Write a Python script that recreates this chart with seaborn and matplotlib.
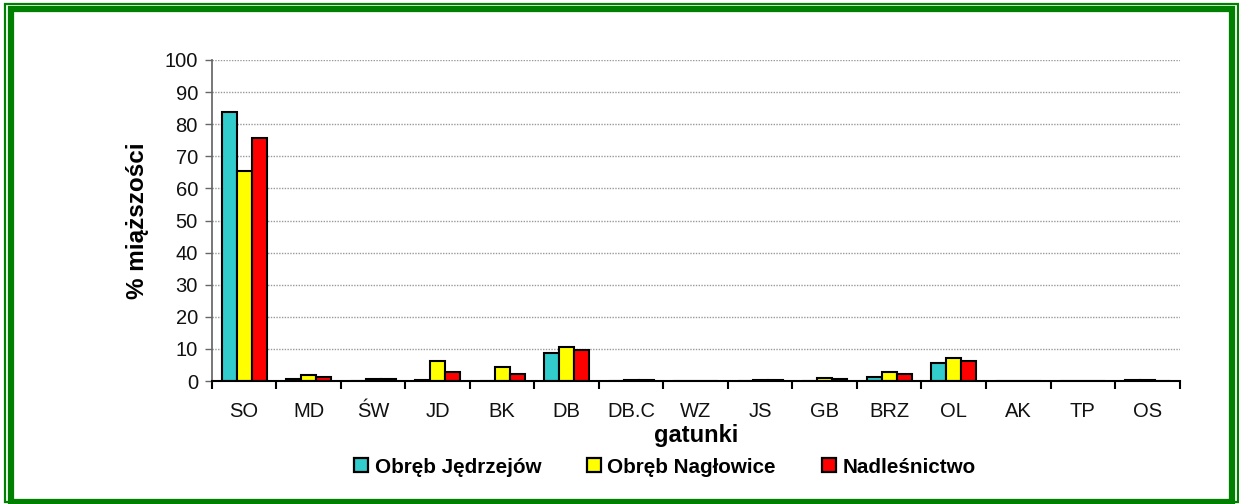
import numpy as np
import pandas as pd
import matplotlib
matplotlib.use("Agg")
import matplotlib.pyplot as plt
from matplotlib.patches import Rectangle
from matplotlib.lines import Line2D
import seaborn as sns

categories = ["SO", "MD", "ŚW", "JD", "BK", "DB", "DB.C", "WZ", "JS", "GB", "BRZ", "OL", "AK", "TP", "OS"]
jedrzejow = [83.9, 0.5, 0.1, 0.4, 0.0, 8.8, 0.1, 0.0, 0.1, 0.1, 1.4, 5.5, 0.1, 0.0, 0.2]
naglowice = [65.5, 2.0, 0.7, 6.3, 4.4, 10.6, 0.3, 0.0, 0.3, 0.8, 2.9, 7.2, 0.1, 0.0, 0.2]
nadlesnictwo = [75.7, 1.1, 0.5, 2.9, 2.1, 9.7, 0.2, 0.0, 0.2, 0.5, 2.1, 6.3, 0.1, 0.0, 0.1]
series_names = ["Obręb Jędrzejów", "Obręb Nagłowice", "Nadleśnictwo"]
colors = ["#33CCCC", "#FFFF00", "#FF0000"]
y_ticks = list(range(0, 101, 10))

sns.set_theme(style="white")
plt.rcParams['font.family'] = ['Liberation Sans', 'DejaVu Sans']

df = pd.DataFrame({
    "gatunki": categories * 3,
    "value": jedrzejow + naglowice + nadlesnictwo,
    "series": sum([[s] * len(categories) for s in series_names], []),
})

fig = plt.figure(figsize=(12.39, 5.04), dpi=100)
ax = fig.add_axes([0.171, 0.244, 0.952 - 0.171, 0.881 - 0.244])

sns.barplot(data=df, x="gatunki", y="value", hue="series", order=categories,
            hue_order=series_names, palette=colors, width=0.7, saturation=1,
            edgecolor="black", linewidth=1.5, ax=ax, legend=False)

ax.set_xlim(-0.5, len(categories) - 0.5)
ax.set_ylim(0, 100)
ax.set_yticks(y_ticks)
ax.yaxis.grid(True, linestyle=(0, (1, 1)), color="#999999", linewidth=1)
ax.set_axisbelow(True)
for s in ["top", "right"]:
    ax.spines[s].set_visible(False)
ax.spines["left"].set_color("#666666")
ax.spines["bottom"].set_color("black")
ax.spines["bottom"].set_linewidth(1.5)
ax.tick_params(axis="y", direction="out", length=5, width=1, color="#666666",
               labelsize=14.5, left=True, pad=5, labelcolor="#111111")
ax.set_xticks(range(len(categories)))
ax.set_xticklabels(categories)
ax.tick_params(axis="x", which="major", length=0, labelsize=14.5, pad=15, labelcolor="#111111")
ax.set_xticks(np.arange(-0.5, len(categories), 1.0), minor=True)
ax.tick_params(axis="x", which="minor", direction="out", length=6, width=1.5, color="black", bottom=True)

ax.set_ylabel("% miąższości", fontsize=17.5, fontweight="bold", labelpad=11, color="black")
ax.set_xlabel("gatunki", fontsize=17, fontweight="bold", labelpad=2, color="black")

hnd = [Line2D([], [], marker="s", linestyle="none", markersize=9.5,
              markerfacecolor=c, markeredgecolor="black", markeredgewidth=1.6) for c in colors]
leg = fig.legend(hnd, series_names, loc="center", bbox_to_anchor=(0.536, 0.073), ncol=3,
                 frameon=False, prop={"weight": "bold", "size": 14.9}, handletextpad=0.25,
                 columnspacing=2.15, handlelength=0.8)
for t in leg.get_texts():
    t.set_color("black")

# double green border
W, H = 1239, 504
def frect(x0, y0, x1, y1, lw):
    fig.patches.append(Rectangle((x0 / W, 1 - y1 / H), (x1 - x0) / W, (y1 - y0) / H,
                                 transform=fig.transFigure, fill=False,
                                 edgecolor="#008000", linewidth=lw))
frect(5, 4, 1237.5, 502, 1.6)
frect(11, 9, 1232, 502, 4.5)

fig.savefig("out.png", dpi=100)
